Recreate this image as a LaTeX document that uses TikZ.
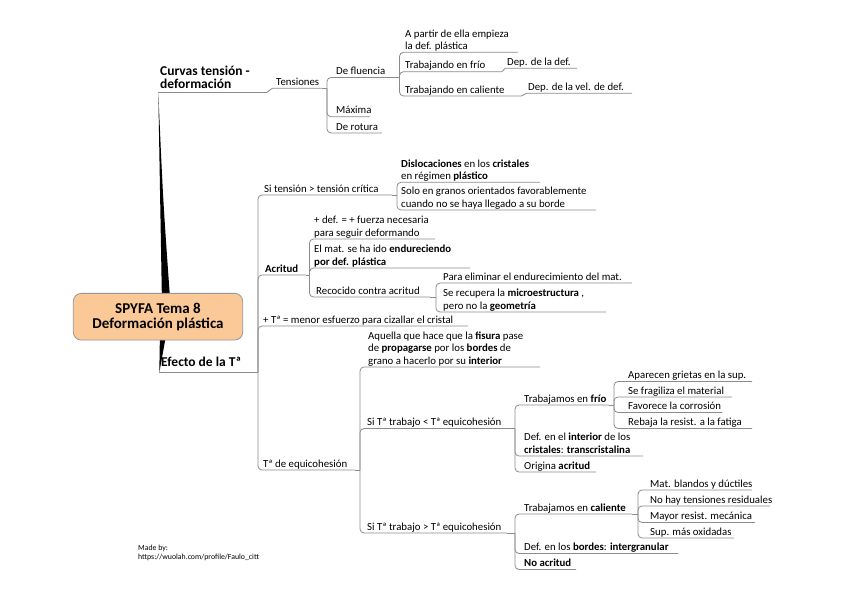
\documentclass[tikz,border=0pt]{standalone}
\usepackage{fontspec}
\setmainfont{Carlito}
\definecolor{lc}{RGB}{140,140,140}
\definecolor{peach}{RGB}{251,201,152}
\definecolor{boxline}{RGB}{150,150,150}
\begin{document}
\begin{tikzpicture}[x=1pt,y=-1pt,
  reg/.style={font=\fontsize{10.8}{12.3}\selectfont, inner sep=0pt, align=left, anchor=south west},
  regb/.style={reg, font=\fontsize{10.8}{12.3}\selectfont\bfseries},
  brn/.style={font=\fontsize{13.5}{12.5}\selectfont\bfseries, inner sep=0pt, align=left, anchor=south west},
  conn/.style={draw=lc, line width=0.8pt, rounded corners=4pt},
  rootbox/.style={draw=boxline, fill=peach, rounded corners=8pt, minimum width=169.4pt, minimum height=46.7pt, inner sep=0pt, align=center, font=\fontsize{15}{15}\selectfont\bfseries, line width=0.8pt}]
\useasboundingbox (0,0) rectangle (848,599);
\fill[white] (0,0) rectangle (848,599);

% main wedges
\coordinate (tipU) at (158.3,92.3);
\coordinate (tipL) at (159.3,372.7);
\fill[black] (tipU) .. controls (163,200) .. (170.5,305) -- (162,305) -- cycle;
\fill[black] (tipL) -- (160,330) -- (167,330) -- cycle;

\node[rootbox] (root) at (158,316.7) {SPYFA Tema 8\\Deformación plástica};

% ---------- Curvas tension - deformacion ----------
\node[brn] (curvas) at (160,92.3) {Curvas tensión -\\deformación\strut};
\coordinate (curvasE) at (267,92.3);
\draw[conn] (tipU) -- (curvasE);

\node[reg] (tens) at (276,89.3) {Tensiones\strut};
\coordinate (tensS) at (272.3,88.3);
\coordinate (tensE) at (321.7,88.3);
\draw[conn,sharp corners] (curvasE) -- (tensS) -- (tensE);

\coordinate (bT) at (327,88.3);
\draw[conn] (tensE) -- (bT);
\node[reg] (flu) at (336,78.5) {De fluencia\strut};
\coordinate (fluE) at (397,77.5);
\node[reg] (maxi) at (336,117.7) {Máxima\strut};
\coordinate (maxiE) at (370,116.7);
\node[reg] (rot) at (336,134) {De rotura\strut};
\coordinate (rotE) at (382,133);
\draw[conn] (bT) |- (fluE);
\draw[conn] (bT) |- (maxiE);
\draw[conn] (bT) |- (rotE);

\coordinate (bF) at (399.5,77.5);
\draw[conn] (fluE) -- (bF);
\node[reg] (apartir) at (405,53.3) {A partir de ella empieza\\la def. plástica\strut};
\coordinate (apartirE) at (518,52.3);
\node[reg] (tfrio) at (405,72.7) {Trabajando en frío\strut};
\coordinate (tfrioE) at (502,71.7);
\node[reg] (tcal) at (405,97) {Trabajando en caliente\strut};
\coordinate (tcalE) at (521.5,96);
\draw[conn] (bF) |- (apartirE);
\draw[conn] (bF) |- (tfrioE);
\draw[conn] (bF) |- (tcalE);

\node[reg] (depdef) at (507,69.3) {Dep. de la def.\strut};
\coordinate (depdefS) at (505,68.3);
\coordinate (depdefE) at (577,68.3);
\draw[conn,sharp corners] (tfrioE) -- (depdefS) -- (depdefE);
\node[reg] (depvel) at (528,94.3) {Dep. de la vel. de def.\strut};
\coordinate (depvelS) at (526.5,93.3);
\coordinate (depvelE) at (632,93.3);
\draw[conn,sharp corners] (tcalE) -- (depvelS) -- (depvelE);

% ---------- Efecto de la T ----------
\node[brn] (efecto) at (161,370.4) {Efecto de la Tª\strut};
\coordinate (efectoE) at (255,372.7);
\draw[conn] (tipL) -- (efectoE);
\coordinate (bE) at (258,372.7);
\draw[conn] (efectoE) -- (bE);

\node[reg] (sitens) at (264,196) {Si tensión > tensión crítica\strut};
\coordinate (sitensE) at (392,195);
\node[regb] (acritud) at (265,276) {Acritud\strut};
\coordinate (acritudE) at (306,275);
\node[reg] (menor) at (263,327) {+ Tª = menor esfuerzo para cizallar el cristal\strut};
\coordinate (menorE) at (468,326);
\node[reg] (equi) at (263,471) {Tª de equicohesión\strut};
\coordinate (equiE) at (355,470);
\draw[conn] (bE) |- (sitensE);
\draw[conn] (bE) |- (acritudE);
\draw[conn] (bE) |- (menorE);
\draw[conn] (bE) |- (equiE);

% Si tension children
\coordinate (bS) at (397,195);
\draw[conn] (sitensE) -- (bS);
\node[reg] (disl) at (401,183.3) {\textbf{Dislocaciones} en los \textbf{cristales}\\en régimen \textbf{plástico}\strut};
\coordinate (dislE) at (540,182.3);
\node[reg] (solo) at (401,211) {Solo en granos orientados favorablemente\\cuando no se haya llegado a su borde\strut};
\coordinate (soloE) at (596,210);
\draw[conn] (bS) |- (dislE);
\draw[conn] (bS) |- (soloE);

% Acritud children
\coordinate (bA) at (309.5,275);
\draw[conn] (acritudE) -- (bA);
\node[reg] (masdef) at (314,240) {+ def. = + fuerza necesaria\\para seguir deformando\strut};
\coordinate (masdefE) at (435,239);
\node[reg] (endur) at (314,269) {El mat. se ha ido \textbf{endureciendo}\\\textbf{por def. plástica}\strut};
\coordinate (endurE) at (470,268);
\node[reg] (recoc) at (316,298) {Recocido contra acritud\strut};
\coordinate (recocE) at (430,297);
\draw[conn] (bA) |- (masdefE);
\draw[conn] (bA) |- (endurE);
\draw[conn] (bA) |- (recocE);

\coordinate (bR) at (436,297);
\draw[conn] (recocE) -- (bR);
\node[reg] (elim) at (443,284) {Para eliminar el endurecimiento del mat.\strut};
\coordinate (elimE) at (632,283);
\node[reg] (recup) at (443,313) {Se recupera la \textbf{microestructura} ,\\pero no la \textbf{geometría}\strut};
\coordinate (recupE) at (606,312);
\draw[conn] (bR) |- (elimE);
\draw[conn] (bR) |- (recupE);

% Equicohesion children
\coordinate (bQ) at (360,470);
\draw[conn] (equiE) -- (bQ);
\node[reg] (aquella) at (368,368) {Aquella que hace que la \textbf{fisura} pase\\de \textbf{propagarse} por los \textbf{bordes} de\\grano a hacerlo por su \textbf{interior}\strut};
\coordinate (aquellaE) at (540,367);
\node[reg] (menorq) at (367,429.5) {Si Tª trabajo < Tª equicohesión\strut};
\coordinate (menorqE) at (507,428.5);
\node[reg] (mayorq) at (367,534) {Si Tª trabajo > Tª equicohesión\strut};
\coordinate (mayorqE) at (507,533);
\draw[conn] (bQ) |- (aquellaE);
\draw[conn] (bQ) |- (menorqE);
\draw[conn] (bQ) |- (mayorqE);

% T trabajo < T equicohesion
\coordinate (bL) at (515,428.5);
\draw[conn] (menorqE) -- (bL);
\node[reg] (tfrio2) at (524,406) {Trabajamos en \textbf{frío}\strut};
\coordinate (tfrio2E) at (609,405);
\node[reg] (interior) at (524,457) {Def. en el \textbf{interior} de los\\\textbf{cristales}: \textbf{transcristalina}\strut};
\coordinate (interiorE) at (643,456);
\node[reg] (origina) at (524,473) {Origina \textbf{acritud}\strut};
\coordinate (originaE) at (596,472);
\draw[conn] (bL) |- (tfrio2E);
\draw[conn] (bL) |- (interiorE);
\draw[conn] (bL) |- (originaE);

\coordinate (bLF) at (614,405);
\draw[conn] (tfrio2E) -- (bLF);
\node[reg] (f1) at (628,382.5) {Aparecen grietas en la sup.\strut};
\coordinate (f1E) at (752,381.5);
\node[reg] (f2) at (628,398) {Se fragiliza el material\strut};
\coordinate (f2E) at (732,397);
\node[reg] (f3) at (628,413.5) {Favorece la corrosión\strut};
\coordinate (f3E) at (722,412.5);
\node[reg] (f4) at (628,429.5) {Rebaja la resist. a la fatiga\strut};
\coordinate (f4E) at (752,428.5);
\draw[conn] (bLF) |- (f1E);
\draw[conn] (bLF) |- (f2E);
\draw[conn] (bLF) |- (f3E);
\draw[conn] (bLF) |- (f4E);

% T trabajo > T equicohesion
\coordinate (bG) at (515,533);
\draw[conn] (mayorqE) -- (bG);
\node[reg] (tcal2) at (524,515) {Trabajamos en \textbf{caliente}\strut};
\coordinate (tcal2E) at (632,514);
\node[reg] (bordes) at (524,554.5) {Def. en los \textbf{bordes}: \textbf{intergranular}\strut};
\coordinate (bordesE) at (678,553.5);
\node[regb] (noacr) at (524,570.5) {No acritud\strut};
\coordinate (noacrE) at (576,569.5);
\draw[conn] (bG) |- (tcal2E);
\draw[conn] (bG) |- (bordesE);
\draw[conn] (bG) |- (noacrE);

\coordinate (bGC) at (638,514);
\draw[conn] (tcal2E) -- (bGC);
\node[reg] (c1) at (650,491) {Mat. blandos y dúctiles\strut};
\coordinate (c1E) at (752,490);
\node[reg] (c2) at (650,507) {No hay tensiones residuales\strut};
\coordinate (c2E) at (770,506);
\node[reg] (c3) at (650,523.5) {Mayor resist. mecánica\strut};
\coordinate (c3E) at (755,522.5);
\node[reg] (c4) at (650,539) {Sup. más oxidadas\strut};
\coordinate (c4E) at (734,538);
\draw[conn] (bGC) |- (c1E);
\draw[conn] (bGC) |- (c2E);
\draw[conn] (bGC) |- (c3E);
\draw[conn] (bGC) |- (c4E);

% credit
\node[anchor=north west, inner sep=0pt, align=left, font=\fontsize{7.8}{9}\selectfont] (madeby) at (138,544.5) {Made by:\\https://wuolah.com/profile/Faulo\_citt};
\end{tikzpicture}
\end{document}
